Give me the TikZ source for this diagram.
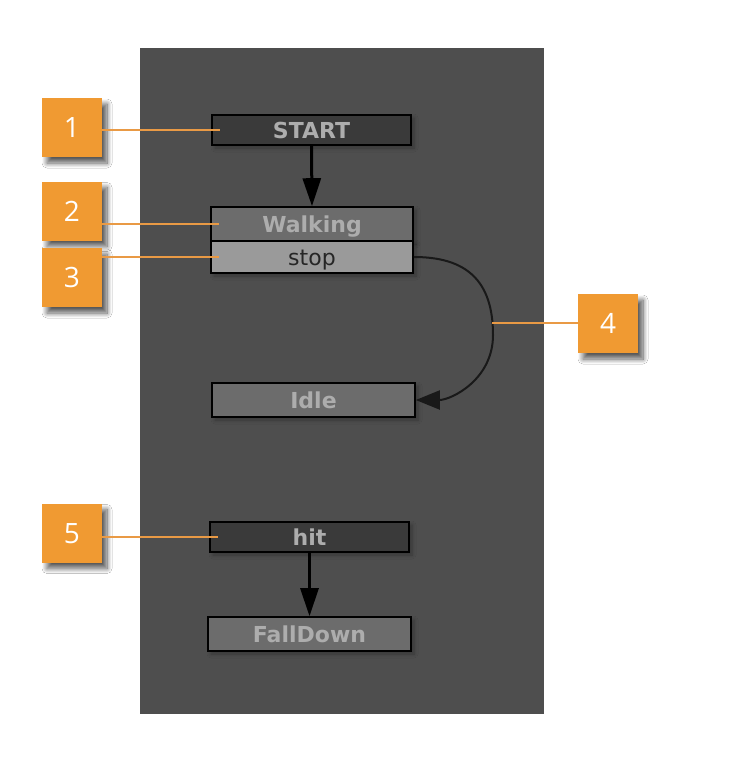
\documentclass[tikz,border=0pt]{standalone}
\usepackage{fontspec}
\setmainfont{DejaVu Sans}
\newfontfamily\numfont{Open Sans}
\usetikzlibrary{arrows.meta,shadows.blur}
\definecolor{panel}{HTML}{4E4E4E}
\definecolor{darkfill}{HTML}{3A3A3A}
\definecolor{midfill}{HTML}{6C6C6C}
\definecolor{lightfill}{HTML}{9A9A9A}
\definecolor{txtgray}{HTML}{ADADAD}
\definecolor{orangebox}{HTML}{F09A32}
\definecolor{orangeline}{HTML}{E99A45}
\begin{document}
\begin{tikzpicture}[x=1pt,y=-1pt,
  state/.style={draw=black, line width=1.6pt, inner sep=0pt, text=txtgray,
    font=\fontsize{22}{22}\selectfont\bfseries, text height=16pt, text depth=0pt,
    blur shadow={shadow xshift=3pt, shadow yshift=-3pt, shadow blur radius=4pt, shadow opacity=30, shadow blur steps=6}},
  darkstate/.style={state, fill=darkfill},
  midstate/.style={state, fill=midfill},
  lightstate/.style={state, fill=lightfill, text=black!85, font=\fontsize{22}{22}\selectfont, text height=16pt},
  callout/.style={fill=orangebox, minimum width=60pt, minimum height=59pt, inner sep=0pt,
    text=white, font=\numfont\fontsize{28}{28}\selectfont, text height=20pt, text depth=0pt,
    blur shadow={shadow xshift=5pt, shadow yshift=-6pt, shadow blur radius=5pt, shadow opacity=65, shadow blur steps=10}},
  leader/.style={draw=orangeline, line width=1.6pt, draw opacity=1},
  flow/.style={draw=black, line width=3pt, -{Triangle[length=28pt,width=18pt]}},
  curvedflow/.style={draw=black!90, line width=2pt, -{Triangle[length=24pt,width=19pt]}}
]
\useasboundingbox (0,0) rectangle (742,760);
\fill[white] (0,0) rectangle (742,760);
\fill[panel] (140,48) rectangle (544,714);

% callouts
\node[callout] (o1) at (72,127.5) {1};
\node[callout] (o2) at (72,211) {2};
\node[callout] (o3) at (72,277.5) {3};
\node[callout] (o4) at (608,323.5) {4};
\node[callout] (o5) at (72,533) {5};

% states
\node[darkstate, minimum width=199pt, minimum height=30pt] (start) at (311.5,130) {START};
\node[midstate, minimum width=202pt, minimum height=34pt] (walking) at (312,224) {Walking};
\node[lightstate, minimum width=202pt, minimum height=32pt] (stop) at (312,257) {stop};
\node[midstate, minimum width=203pt, minimum height=34pt] (idle) at (313.5,400) {Idle};
\node[darkstate, minimum width=199pt, minimum height=30pt] (hit) at (309.5,537) {hit};
\node[midstate, minimum width=203pt, minimum height=34pt] (falldown) at (309.5,634) {FallDown};

% flows
\draw[flow] (start.south) -- (walking.north);
\draw[flow] (hit.south) -- (falldown.north);
\coordinate (bend) at (493,335);
\draw[curvedflow] (stop.east) .. controls +(52,0) and +(0,-55) .. (bend)
  .. controls +(0,45) and +(35,0) .. (idle.east);

% leaders
\coordinate (c4) at (491.5,323);
\draw[leader] (o1.east |- start) -- ([xshift=9pt]start.west);
\draw[leader] (o2.east |- walking) -- ([xshift=9pt]walking.west);
\draw[leader] (o3.east |- stop) -- ([xshift=9pt]stop.west);
\draw[leader] (o4.west |- c4) -- (c4);
\draw[leader] (o5.east |- hit) -- ([xshift=9pt]hit.west);
\end{tikzpicture}
\end{document}
